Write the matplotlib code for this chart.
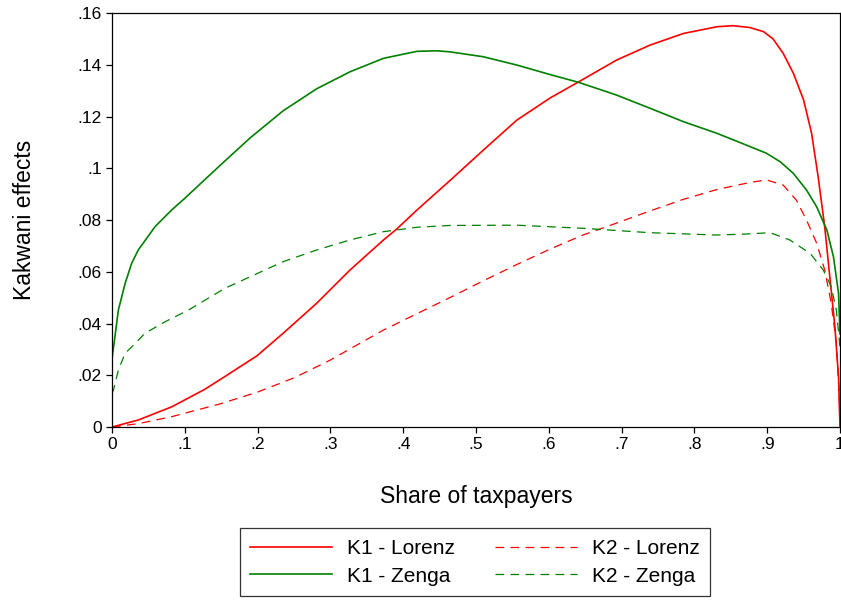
import numpy as np
import matplotlib
matplotlib.use("Agg")
import matplotlib.pyplot as plt

plt.rcParams['font.family'] = ['Liberation Sans', 'DejaVu Sans']

# K1 - Lorenz (red solid)
k1l_x = [0, 0.036, 0.082, 0.127, 0.155, 0.199, 0.235, 0.281, 0.327, 0.373, 0.391, 0.419, 0.464,
         0.51, 0.556, 0.602, 0.641, 0.693, 0.739, 0.785, 0.831, 0.853, 0.876, 0.895, 0.908, 0.922,
         0.936, 0.95, 0.961, 0.970, 0.979, 0.986, 0.993, 0.998, 1.0]
k1l_y = [0, 0.0027, 0.0078, 0.0145, 0.0195, 0.0275, 0.0362, 0.0478, 0.0607, 0.0723, 0.0765, 0.0839,
         0.0952, 0.107, 0.1186, 0.1272, 0.1334, 0.1418, 0.1476, 0.1521, 0.1547, 0.1551, 0.1544,
         0.1528, 0.150, 0.1444, 0.1367, 0.1264, 0.1135, 0.0967, 0.0774, 0.0581, 0.0388, 0.0194, 0.0]

# K1 - Zenga (green solid)
k1z_x = [0, 0.004, 0.0087, 0.018, 0.027, 0.036, 0.059, 0.082, 0.1, 0.127, 0.155, 0.19, 0.235,
         0.281, 0.327, 0.373, 0.419, 0.446, 0.464, 0.51, 0.556, 0.602, 0.641, 0.693, 0.739, 0.785,
         0.831, 0.863, 0.899, 0.918, 0.936, 0.954, 0.968, 0.982, 0.991, 0.998, 1.0]
k1z_y = [0.0265, 0.0349, 0.0452, 0.0555, 0.0633, 0.0684, 0.0774, 0.0839, 0.0884, 0.0955, 0.1028,
         0.1118, 0.1222, 0.1307, 0.1373, 0.1425, 0.1452, 0.1454, 0.145, 0.1431, 0.1399, 0.1362,
         0.1332, 0.1283, 0.1232, 0.118, 0.1135, 0.1099, 0.1058, 0.1025, 0.098, 0.0916, 0.0851,
         0.0761, 0.0658, 0.0517, 0.036]

# K2 - Lorenz (red dashed)
k2l_x = [0, 0.036, 0.082, 0.148, 0.2, 0.25, 0.3, 0.373, 0.464, 0.51, 0.556, 0.602, 0.647, 0.685,
         0.739, 0.785, 0.831, 0.876, 0.899, 0.922, 0.94, 0.954, 0.968, 0.979, 0.988, 0.995, 0.999,
         1.0]
k2l_y = [0, 0.0013, 0.004, 0.0089, 0.0135, 0.019, 0.0259, 0.0375, 0.0500, 0.0565, 0.0628, 0.0688,
         0.0742, 0.0780, 0.0835, 0.0880, 0.0918, 0.0945, 0.0955, 0.0935, 0.0877, 0.080, 0.071,
         0.0607, 0.0478, 0.0323, 0.013, 0.0]

# K2 - Zenga (green dashed)
k2z_x = [0, 0.002, 0.0087, 0.018, 0.032, 0.045, 0.073, 0.105, 0.155, 0.19, 0.235, 0.281, 0.327,
         0.373, 0.419, 0.464, 0.556, 0.647, 0.739, 0.831, 0.872, 0.904, 0.931, 0.959, 0.977, 0.988,
         0.995, 1.0]
k2z_y = [0.013, 0.0143, 0.022, 0.0285, 0.0323, 0.0362, 0.0407, 0.0452, 0.0536, 0.0581, 0.0639,
         0.0684, 0.0723, 0.0755, 0.0772, 0.0779, 0.0780, 0.0768, 0.0751, 0.0742, 0.0746, 0.0751,
         0.0723, 0.0671, 0.0607, 0.0542, 0.0452, 0.031]

xticks = [0, 0.1, 0.2, 0.3, 0.4, 0.5, 0.6, 0.7, 0.8, 0.9, 1.0]
xtick_labels = ['0', '.1', '.2', '.3', '.4', '.5', '.6', '.7', '.8', '.9', '1']
yticks = [0, 0.02, 0.04, 0.06, 0.08, 0.1, 0.12, 0.14, 0.16]
ytick_labels = ['0', '.02', '.04', '.06', '.08', '.1', '.12', '.14', '.16']

red = '#ff0000'
green = '#008000'

fig = plt.figure(figsize=(8.41, 6), dpi=100)
ax = fig.add_axes([0.1332, 0.2883, 0.8656, 0.69])

ax.plot(k1l_x, k1l_y, color=red, lw=1.2, label='K1 - Lorenz')
ax.plot(k2l_x, k2l_y, color=red, lw=0.9, dashes=(7, 5), label='K2 - Lorenz')
ax.plot(k1z_x, k1z_y, color=green, lw=1.2, label='K1 - Zenga')
ax.plot(k2z_x, k2z_y, color=green, lw=0.9, dashes=(7, 5), label='K2 - Zenga')

ax.set_xlim(0, 1)
ax.set_ylim(0, 0.16)
ax.set_xticks(xticks)
ax.set_xticklabels(xtick_labels)
ax.set_yticks(yticks)
ax.set_yticklabels(ytick_labels)
ax.tick_params(labelsize=12.5, length=4.5, width=0.9, color='black', pad=3)
for s in ax.spines.values():
    s.set_linewidth(0.9)

ax.set_xlabel('Share of taxpayers', fontsize=16.5, labelpad=23.5)
ax.set_ylabel('Kakwani effects', fontsize=16.5, labelpad=30)

h, l = ax.get_legend_handles_labels()
order = [0, 2, 1, 3]
leg = fig.legend([h[i] for i in order], [l[i] for i in order], ncol=2,
                 loc='center', bbox_to_anchor=(0.565, 0.063), fontsize=15,
                 frameon=True, fancybox=False, edgecolor='black', handlelength=3.93,
                 columnspacing=1.92, handletextpad=0.72, borderpad=0.5, labelspacing=0.42)
leg.get_frame().set_linewidth(0.9)

fig.savefig('out.png', dpi=100, facecolor='white')
